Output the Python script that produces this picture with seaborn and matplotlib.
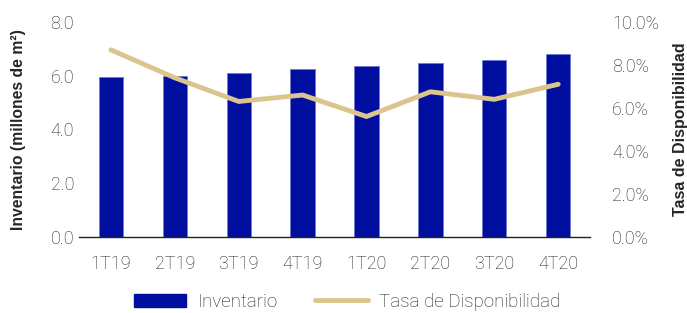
import matplotlib
matplotlib.use("Agg")
import matplotlib.pyplot as plt
import matplotlib.ticker as mticker
import seaborn as sns
import pandas as pd
from matplotlib.patches import Patch
from matplotlib.lines import Line2D

# Data
quarters = ["1T19", "2T19", "3T19", "4T19", "1T20", "2T20", "3T20", "4T20"]
inventario = [5.95, 6.0, 6.1, 6.24, 6.36, 6.47, 6.59, 6.82]
tasa_disp = [8.7, 7.4, 6.3, 6.6, 5.6, 6.75, 6.4, 7.1]

BAR_COLOR = "#000f9f"
LINE_COLOR = "#dcc48e"
TEXT_COLOR = "#222222"

df = pd.DataFrame({"trimestre": quarters, "inventario": inventario,
                   "tasa": [v / 100 for v in tasa_disp]})

sns.set_style("white")
plt.rcParams["font.family"] = ["Roboto", "Liberation Sans", "DejaVu Sans"]

fig = plt.figure(figsize=(6.87, 3.13), dpi=100)
ax1 = fig.add_axes([0.115, 0.243, 0.744, 0.687])

sns.barplot(data=df, x="trimestre", y="inventario", ax=ax1, color=BAR_COLOR,
            width=0.38, saturation=1, edgecolor="#6f78d0", linewidth=0.6)
ax1.set_ylim(0, 8)
ax1.set_xlim(-0.5, 7.5)
ax1.yaxis.set_major_locator(mticker.MultipleLocator(2))
ax1.yaxis.set_major_formatter(mticker.FormatStrFormatter("%.1f"))
ax1.set_xlabel("")
ax1.set_ylabel("Inventario (millones de m²)", fontsize=11.3, fontweight="bold",
               labelpad=18, family=["Liberation Sans", "DejaVu Sans"])
ax1.tick_params(axis="both", labelsize=13, colors=TEXT_COLOR, length=0)
ax1.tick_params(axis="x", pad=13)
for lbl in ax1.get_xticklabels() + ax1.get_yticklabels():
    lbl.set_fontweight("light")
for s in ["top", "right", "left"]:
    ax1.spines[s].set_visible(False)
ax1.spines["bottom"].set_color(TEXT_COLOR)
ax1.spines["bottom"].set_linewidth(1)

ax2 = ax1.twinx()
sns.lineplot(data=df, x="trimestre", y="tasa", ax=ax2, color=LINE_COLOR,
             linewidth=3.5, sort=False)
ax2.set_ylim(0, 0.10)
ax2.yaxis.set_major_locator(mticker.MultipleLocator(0.02))
ax2.yaxis.set_major_formatter(mticker.PercentFormatter(xmax=1, decimals=1))
ax2.set_ylabel("Tasa de Disponibilidad", fontsize=11.5, fontweight="bold",
               labelpad=10, family=["Liberation Sans", "DejaVu Sans"])
ax2.tick_params(axis="y", labelsize=13, colors=TEXT_COLOR, length=0, pad=16)
for lbl in ax2.get_yticklabels():
    lbl.set_fontweight("light")
for s in ["top", "right", "left", "bottom"]:
    ax2.spines[s].set_visible(False)
ax1.set_xlim(-0.5, 7.5)

handles = [Patch(facecolor=BAR_COLOR, edgecolor=BAR_COLOR),
           Line2D([0], [0], color=LINE_COLOR, linewidth=3.5)]
leg = fig.legend(handles, ["Inventario", "Tasa de Disponibilidad"], loc="center",
                 bbox_to_anchor=(0.505, 0.035), ncol=2, frameon=False, fontsize=13.5,
                 handlelength=2.8, handleheight=0.7, handletextpad=0.6,
                 columnspacing=2.0, labelcolor=TEXT_COLOR)
for t in leg.get_texts():
    t.set_fontweight("light")

fig.savefig("out.png", dpi=100)
